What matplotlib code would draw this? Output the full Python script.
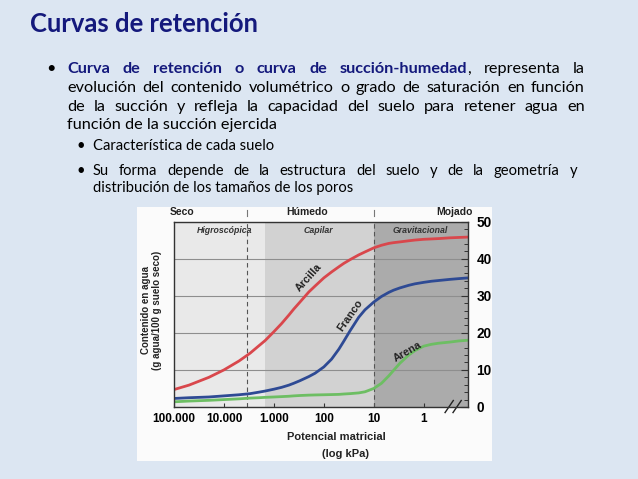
import matplotlib
matplotlib.use('Agg')
import matplotlib.pyplot as plt
from matplotlib.patches import Rectangle
from matplotlib.ticker import NullLocator
import numpy as np

# suction (kPa) and water content (g agua / 100 g suelo seco)
suction = [100000, 50000, 20000, 10000, 5000, 3000, 2000, 1500, 1000, 700, 500,
           400, 300, 200, 150, 100, 70, 50, 40, 30, 20, 15, 10, 7, 5, 4, 3, 2,
           1.5, 1, 0.7, 0.5, 0.3, 0.2, 0.13]
arcilla = [4.7, 5.9, 8.0, 10.0, 12.4, 14.5, 16.5, 17.9, 20.3, 22.5, 24.8,
           26.4, 28.3, 31.0, 32.6, 34.8, 36.4, 37.8, 38.7, 39.7, 41.0, 41.8, 42.9,
           43.6, 44.1, 44.3, 44.5, 44.8, 45.0, 45.2, 45.3, 45.4, 45.6, 45.7, 45.8]
franco = [2.3, 2.5, 2.7, 3.0, 3.3, 3.6, 4.0, 4.3, 4.8, 5.3, 5.9,
          6.4, 7.1, 8.2, 9.1, 10.8, 12.9, 15.6, 17.7, 20.5, 24.2, 26.2, 28.3,
          29.8, 30.9, 31.5, 32.1, 32.8, 33.2, 33.6, 33.9, 34.1, 34.4, 34.6, 34.8]
arena = [1.4, 1.6, 1.8, 2.0, 2.2, 2.4, 2.5, 2.6, 2.7, 2.8, 2.9,
         3.0, 3.1, 3.2, 3.25, 3.3, 3.35, 3.4, 3.5, 3.6, 3.8, 4.1, 5.0,
         6.4, 8.4, 9.9, 11.8, 14.0, 15.2, 16.4, 16.9, 17.2, 17.5, 17.8, 18.0]

xtick_vals = [100000, 10000, 1000, 100, 10, 1]
xtick_labels = ['100.000', '10.000', '1.000', '100', '10', '1']
ytick_vals = [0, 10, 20, 30, 40, 50]
hygro_limit = 3400     # dashed line
wilting = 1500         # end of light zone
field_cap = 10         # dashed line

NAVY = '#14197C'
W, H = 638, 479
fig = plt.figure(figsize=(W / 100, H / 100), dpi=100, facecolor='#DCE6F2')
r = fig.canvas.get_renderer()


def px(x, y):
    return x / W, 1 - y / H


def width_of(t):
    return t.get_window_extent(r).width


def fit(text, target, **kw):
    t = fig.text(0, 0, text, fontsize=10, **kw)
    s = 10 * target / width_of(t)
    t.remove()
    return s


def justify(words, x0, x1, y, size):
    # words: list of lists of (text, weight, color)
    objs = []
    total = 0
    for w in words:
        parts = []
        for txt, wt, col in w:
            t = fig.text(0, 0, txt, fontsize=size, fontweight=wt, color=col,
                         family='Lato', va='baseline')
            parts.append(t)
            total += width_of(t)
        objs.append(parts)
    gap = (x1 - x0 - total) / (len(words) - 1)
    x = x0
    for parts in objs:
        for t in parts:
            t.set_position(px(x, y))
            x += width_of(t)
        x += gap


# slide text
fig.text(*px(30, 32), 'Curvas de retención', fontweight='bold',
         family='Lato', color=NAVY, va='baseline',
         fontsize=fit('Curvas de retención', 230, fontweight='bold', family='Lato'))

body = fit('función de la succión ejercida', 211, family='Lato')
sub = fit('Característica de cada suelo', 180, family='Lato')

bold_part = 'Curva de retención o curva de succión-humedad'.split()
line1 = [[(w, 'bold', NAVY)] for w in bold_part]
line1[-1].append((',', 'normal', 'black'))
line1 += [[('representa', 'normal', 'black')], [('la', 'normal', 'black')]]
justify(line1, 67, 585, 73, body)

lines = ['evolución del contenido volumétrico o grado de saturación en función',
         'de la succión y refleja la capacidad del suelo para retener agua en']
for ln, yb in zip(lines, [92, 111]):
    justify([[(w, 'normal', 'black')] for w in ln.split()], 67, 585, yb, body)
fig.text(*px(67, 129), 'función de la succión ejercida', fontsize=body,
         family='Lato', va='baseline')
fig.text(*px(46, 73), '•', fontsize=body, family='Lato', va='baseline')

fig.text(*px(93, 150), 'Característica de cada suelo', fontsize=sub,
         family='Lato', va='baseline')
justify([[(w, 'normal', 'black')] for w in
         'Su forma depende de la estructura del suelo y de la geometría y'.split()],
        93, 577, 175, sub)
fig.text(*px(93, 192), 'distribución de los tamaños de los poros', fontsize=sub,
         family='Lato', va='baseline')
for yb in [150, 175]:
    fig.text(*px(77, yb), '•', fontsize=sub, family='Lato', va='baseline')

# chart panel
fig.add_artist(Rectangle(px(137, 461), 355 / W, 254 / H, transform=fig.transFigure,
                         facecolor='#FBFBFB', edgecolor='none', zorder=0))

ax = fig.add_axes([174 / W, 1 - 407 / H, 294 / W, 185.5 / H])
ax.set_xscale('log')
ax.set_xlim(100000, 0.13)
ax.set_ylim(0, 50)
ax.axvspan(100000, wilting, color='#E9E9E9', lw=0)
ax.axvspan(wilting, field_cap, color='#D2D2D2', lw=0)
ax.axvspan(field_cap, 0.13, color='#ABABAB', lw=0)
ax.grid(axis='y', color='#8E8E8E', lw=0.8)
for xv in [hygro_limit, field_cap]:
    ax.axvline(xv, color='#555555', lw=0.8, ls=(0, (4, 3)))
    ax.plot([xv, xv], [1.03, 1.06], color='#777777', lw=0.8,
            transform=ax.get_xaxis_transform(), clip_on=False)

line_kw = dict(lw=2, solid_joinstyle='round', solid_capstyle='butt')
ax.plot(suction, arcilla, color='#D9474C', **line_kw)
ax.plot(suction, franco, color='#2E4A94', **line_kw)
ax.plot(suction, arena, color='#6DBE63', **line_kw)

lab = dict(ha='center', va='center', fontsize=7.8, fontweight='bold',
           color='#222222', family='Liberation Sans')
ax.text(200, 34.8, 'Arcilla', rotation=48, **lab)
ax.text(30, 24.8, 'Franco', rotation=55, **lab)
ax.text(2.1, 15.0, 'Arena', rotation=30, **lab)

zone = dict(ha='center', va='top', fontsize=6.3, fontweight='bold', style='italic',
            color='#333333', family='Liberation Sans', transform=ax.get_xaxis_transform())
ax.text(9500, 0.975, 'Higroscópica', **zone)
ax.text(130, 0.975, 'Capilar', **zone)
ax.text(1.2, 0.975, 'Gravitacional', **zone)

# break marks on the x axis
for xa in [0.936, 0.963]:
    ax.plot([xa - 0.014, xa + 0.014], [-0.03, 0.035], color='#222222', lw=1,
            transform=ax.transAxes, clip_on=False)

ax.set_xticks(xtick_vals, labels=xtick_labels, fontsize=8.5, fontweight='bold',
              family='Liberation Sans')
ax.xaxis.set_minor_locator(NullLocator())
ax.tick_params(axis='x', direction='in', length=3, width=0.8, pad=4, color='#333333')
ax.yaxis.tick_right()
ax.set_yticks(ytick_vals, labels=[str(v) for v in ytick_vals], fontsize=9.8,
              fontweight='bold', family='Liberation Sans')
ax.set_yticks(np.arange(0, 51, 2), minor=True)
ax.tick_params(axis='y', which='major', direction='in', length=5, width=0.8,
               pad=6, color='#333333')
ax.tick_params(axis='y', which='minor', direction='in', length=3, width=0.7,
               color='#333333')
for s in ax.spines.values():
    s.set_color('#333333')
    s.set_linewidth(1)

hdr = dict(fontsize=7.5, fontweight='bold', family='Liberation Sans', va='center',
           color='#222222')
fig.text(*px(182, 212), 'Seco', ha='center', **hdr)
fig.text(*px(307, 212), 'Húmedo', ha='center', **hdr)
fig.text(*px(473, 212), 'Mojado', ha='right', **hdr)

fig.text(*px(151.5, 310), 'Contenido en agua\n(g agua/100 g suelo seco)', rotation=90,
         ha='center', va='center', multialignment='center', fontsize=7,
         fontweight='bold', family='Liberation Sans', color='#222222', linespacing=1.2)
fig.text(*px(336, 437), 'Potencial matricial', ha='center', va='center', fontsize=8,
         fontweight='bold', family='Liberation Sans', color='#222222')
fig.text(*px(345, 454), '(log kPa)', ha='center', va='center', fontsize=8,
         fontweight='bold', family='Liberation Sans', color='#222222')

fig.savefig('out.png', dpi=100, facecolor=fig.get_facecolor())
